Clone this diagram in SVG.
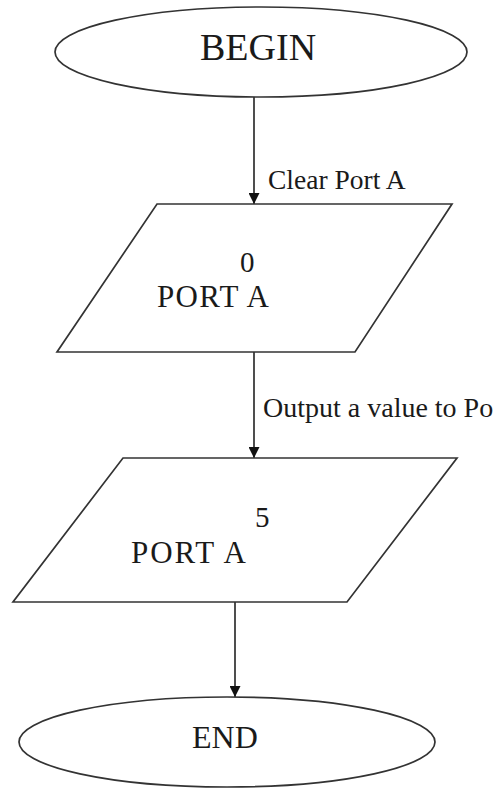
<svg xmlns="http://www.w3.org/2000/svg" width="500" height="789" viewBox="0 0 500 789">
<defs>
<style>
.shape{fill:#fff;stroke:#333;stroke-width:1.7}
.conn{stroke:#222;stroke-width:1.6;fill:none}
.t{font-family:"Liberation Serif","Times New Roman",serif;fill:#1a1a1a}
</style>
<marker id="ah" viewBox="0 0 10 10" refX="10" refY="5" markerWidth="11" markerHeight="11" markerUnits="userSpaceOnUse" orient="auto">
<path d="M0,0 L10,5 L0,10 z" fill="#111"/>
</marker>
</defs>
<rect width="500" height="789" fill="#fff"/>
<g id="connectors">
<line class="conn" x1="254" y1="97" x2="254" y2="204" marker-end="url(#ah)"/>
<line class="conn" x1="254" y1="352" x2="254" y2="458" marker-end="url(#ah)"/>
<line class="conn" x1="235" y1="602" x2="235" y2="697" marker-end="url(#ah)"/>
<text class="t" x="268" y="189" font-size="27.5">Clear Port A</text>
<text class="t" x="263" y="417" font-size="28">Output a value to Po</text>
</g>
<g id="begin">
<ellipse class="shape" cx="261" cy="52" rx="206" ry="45"/>
<text class="t" x="200" y="60" font-size="38">BEGIN</text>
</g>
<g id="out0">
<polygon class="shape" points="157,204 452,204 355,352 57,352"/>
<text class="t" x="240" y="272" font-size="29">0</text>
<text class="t" x="157" y="307" font-size="31" textLength="112">PORT A</text>
</g>
<g id="out5">
<polygon class="shape" points="123,458 457,458 347,602 13,602"/>
<text class="t" x="255" y="527" font-size="29">5</text>
<text class="t" x="131" y="563" font-size="31" textLength="115">PORT A</text>
</g>
<g id="end">
<ellipse class="shape" cx="227" cy="742" rx="208" ry="45"/>
<text class="t" x="192" y="748" font-size="32">END</text>
</g>
</svg>
